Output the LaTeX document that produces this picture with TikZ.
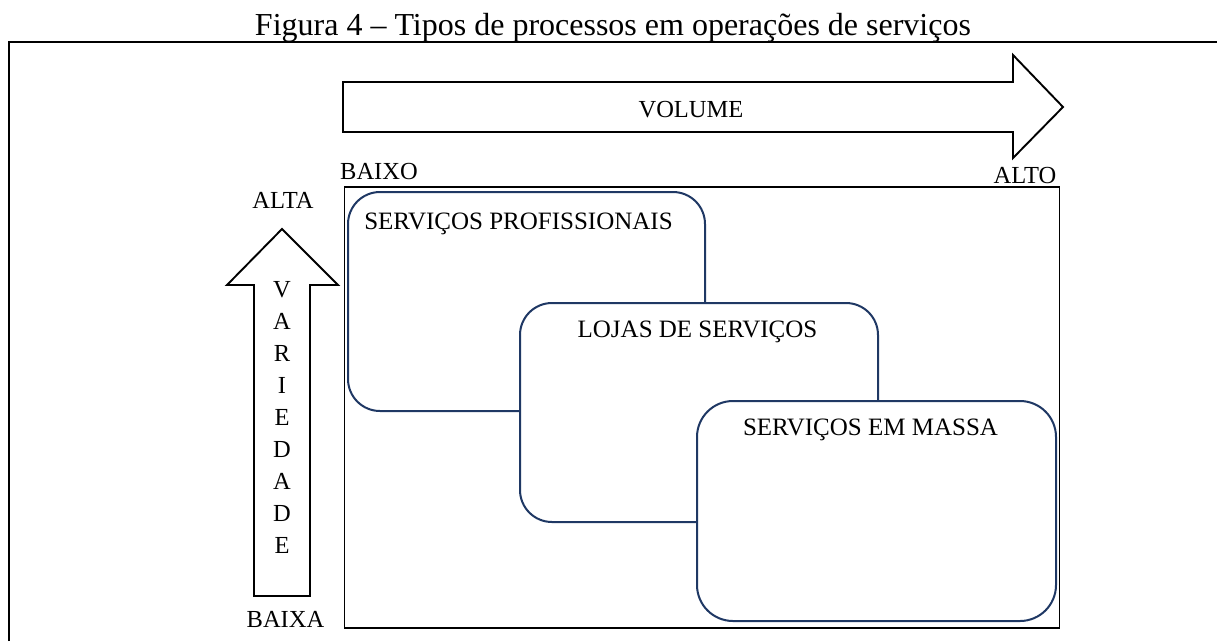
\documentclass[tikz,border=0pt]{standalone}
\usepackage{fontspec}
\setmainfont{Liberation Serif}
\definecolor{regblue}{HTML}{1F3864}
\begin{document}
\begin{tikzpicture}[x=1pt,y=-1pt,
  frame/.style={line width=1.9pt, black, line join=miter},
  region/.style={draw=regblue, line width=2pt, fill=white, rounded corners=32pt},
  lbl/.style={font=\fontsize{24.5}{26}\selectfont, inner sep=0pt, anchor=base},
  boxlbl/.style={lbl, font=\fontsize{25}{27}\selectfont},
]
\useasboundingbox (0,0) rectangle (1217,641);

% caption
\node[font=\fontsize{32}{34}\selectfont, inner sep=0pt, anchor=base] (title) at (613,35)
  {Figura 4 – Tipos de processos em operações de serviços};

% outer frame (top and left edges)
\coordinate (fbl) at (9,641);
\coordinate (ftl) at (9,42);
\coordinate (ftr) at (1217,42);
\draw[frame] (fbl) -- (ftl) -- (ftr);

% horizontal arrow: volume
\draw[frame, fill=white] (343,82) -- (1013,82) -- (1013,55) -- (1063,107)
  -- (1013,158) -- (1013,132) -- (343,132) -- cycle;
\node[lbl] (volume) at (691,117) {VOLUME};
\node[lbl, anchor=base west] (baixo) at (340,179) {BAIXO};
\node[lbl] (alto) at (1025,183) {ALTO};

% vertical arrow: variety
\draw[frame, fill=white] (254,596) -- (254,285) -- (227,285) -- (282,229)
  -- (338,285) -- (310,285) -- (310,596) -- cycle;
\node[lbl] (alta) at (283,208) {ALTA};
\node[lbl] (baixa) at (285.5,627) {BAIXA};
\foreach \ch [count=\i from 0] in {V,A,R,I,E,D,A,D,E}
  \node[lbl] (var\i) at (282,297+32*\i) {\ch};

% main box
\node[draw, frame, minimum width=715pt, minimum height=441pt, inner sep=0pt,
  anchor=north west] (grid) at (343.5,186) {};

% process regions, each overlapping the previous one
\draw[region] (348,192) rectangle (705,411);
\node[boxlbl] (prof) at (518.5,229) {SERVIÇOS PROFISSIONAIS};

\draw[region] (520,303) rectangle (878,522);
\node[boxlbl] (lojas) at (697.5,337) {LOJAS DE SERVIÇOS};

\draw[region, rounded corners=36pt] (697,401) rectangle (1056,621);
\node[boxlbl] (massa) at (870.5,435) {SERVIÇOS EM MASSA};
\end{tikzpicture}
\end{document}
